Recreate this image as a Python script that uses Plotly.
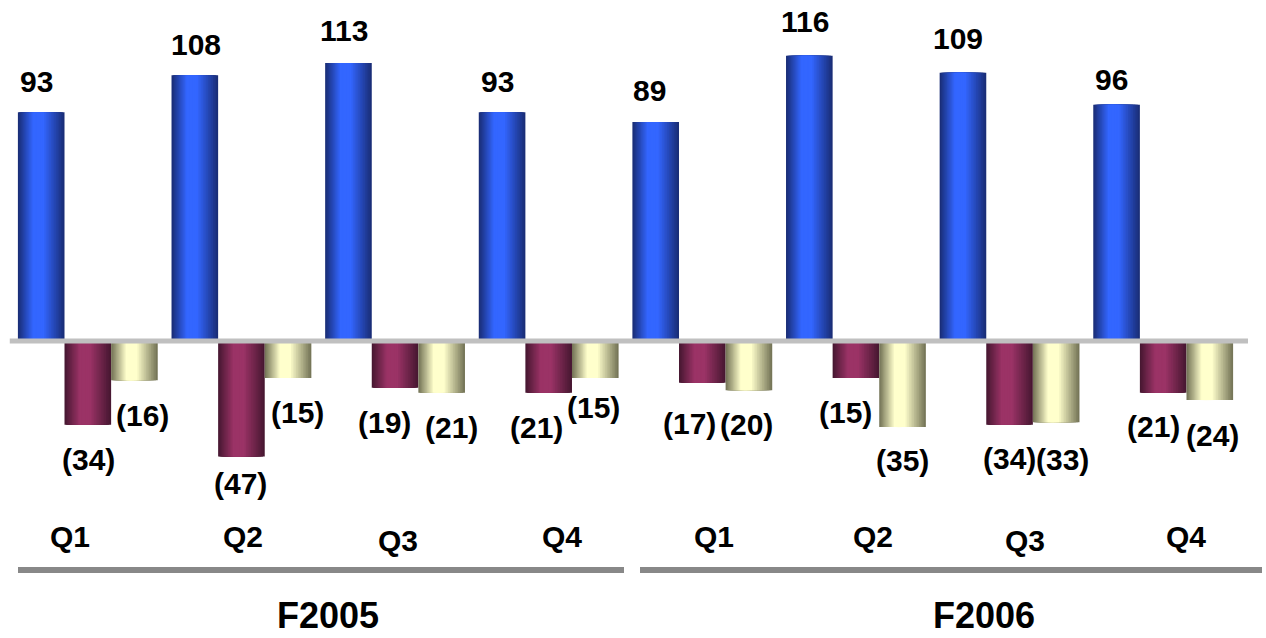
import plotly.graph_objects as go

# Quarterly figures, two fiscal years
quarters = ["Q1", "Q2", "Q3", "Q4", "Q1", "Q2", "Q3", "Q4"]
fiscal_years = ["F2005", "F2006"]
series_a = [93, 108, 113, 93, 89, 116, 109, 96]
series_b = [-34, -47, -19, -21, -17, -15, -34, -21]
series_c = [-16, -15, -21, -15, -20, -35, -33, -24]

# Hand placement of the value labels (pixel nudges from the bar end)
shift_a = [(-5, 31), (1, 31), (-4, 33), (-5, 31), (-6, 32), (-4, 34), (-5, 34), (-5, 25)]
shift_b = [(1, -35), (-1, -27), (-11, -35), (-12, -35), (-13, -41), (-10, -35), (0, -34), (-10, -34)]
shift_c = [(8, -35), (9, -35), (10, -35), (-2, -30), (-2, -34), (0, -33), (6, -37), (3, -35)]
quarter_shift = [-18, 2, 3, 13, 12, 17, 15, 23]
quarter_y = [536, 536, 540, 536, 536, 536, 540, 536]

W = 0.3034          # width of one bar in category units
N_LAYERS = 16       # layers used for the cylinder shading
CENTER = 0.42       # position of the highlight across the bar

styles = [
    ((26, 46, 120), (51, 102, 255)),    # blue
    ((72, 24, 50), (155, 51, 102)),     # maroon
    ((118, 118, 88), (255, 255, 204)),  # cream
]

def mix(c1, c2, s):
    return "rgb(%d,%d,%d)" % tuple(round(a + (b - a) * s) for a, b in zip(c1, c2))

fig = go.Figure()
x_idx = list(range(len(quarters)))
for j, (vals, (edge, mid)) in enumerate(zip([series_a, series_b, series_c], styles)):
    left0 = -1.5 * W + j * W
    for k in range(N_LAYERS):
        t = k / N_LAYERS
        s = min(1.0, t / 0.75)
        fig.add_trace(go.Bar(
            x=x_idx, y=vals,
            width=W * (1 - t),
            offset=left0 + t * CENTER * W,
            marker=dict(color=mix(edge, mid, s), line=dict(width=0)),
            hoverinfo="skip", showlegend=False,
        ))

label_font = dict(family="Liberation Sans, Arial, sans-serif", size=30, color="black", weight="bold")

def fmt(v):
    return str(v) if v >= 0 else "(%d)" % (-v)

for j, (vals, shifts) in enumerate(zip([series_a, series_b, series_c], [shift_a, shift_b, shift_c])):
    for i, v in enumerate(vals):
        fig.add_annotation(
            x=i - W + j * W, y=v, xref="x", yref="y",
            text=fmt(v), showarrow=False, font=label_font,
            xanchor="center", yanchor="middle",
            xshift=shifts[i][0], yshift=shifts[i][1],
        )

def paper_y(py):
    return (498 - py) / 468.0

for i, q in enumerate(quarters):
    fig.add_annotation(
        x=i, y=paper_y(quarter_y[i]), xref="x", yref="paper",
        text=q, showarrow=False, font=label_font,
        xanchor="center", yanchor="middle", xshift=quarter_shift[i],
    )

year_font = dict(family="Liberation Sans, Arial, sans-serif", size=36, color="black", weight="bold")
for yr, px in zip(fiscal_years, [328, 984]):
    fig.add_annotation(
        x=(px - 11) / 1229.0, y=paper_y(615), xref="paper", yref="paper",
        text=yr, showarrow=False, font=year_font, borderpad=0,
        xanchor="center", yanchor="middle",
    )

# zero line and the two year brackets
fig.add_shape(type="line", xref="paper", yref="y", x0=-0.001, x1=1.0065, y0=0, y1=0,
              line=dict(color="#c0c0c0", width=5), layer="above")
for a, b in [(18, 624), (640, 1262)]:
    fig.add_shape(type="line", xref="paper", yref="paper",
                  x0=(a - 11) / 1229.0, x1=(b - 11) / 1229.0,
                  y0=paper_y(570), y1=paper_y(570),
                  line=dict(color="#888888", width=6))

fig.update_layout(
    width=1266, height=638,
    margin=dict(l=11, r=26, t=30, b=140),
    barmode="overlay",
    plot_bgcolor="white", paper_bgcolor="white",
    xaxis=dict(range=[-0.5, 7.5], visible=False),
    yaxis=dict(range=[-63.82, 126.42], visible=False),
    showlegend=False,
)

fig.write_html("out.html")
